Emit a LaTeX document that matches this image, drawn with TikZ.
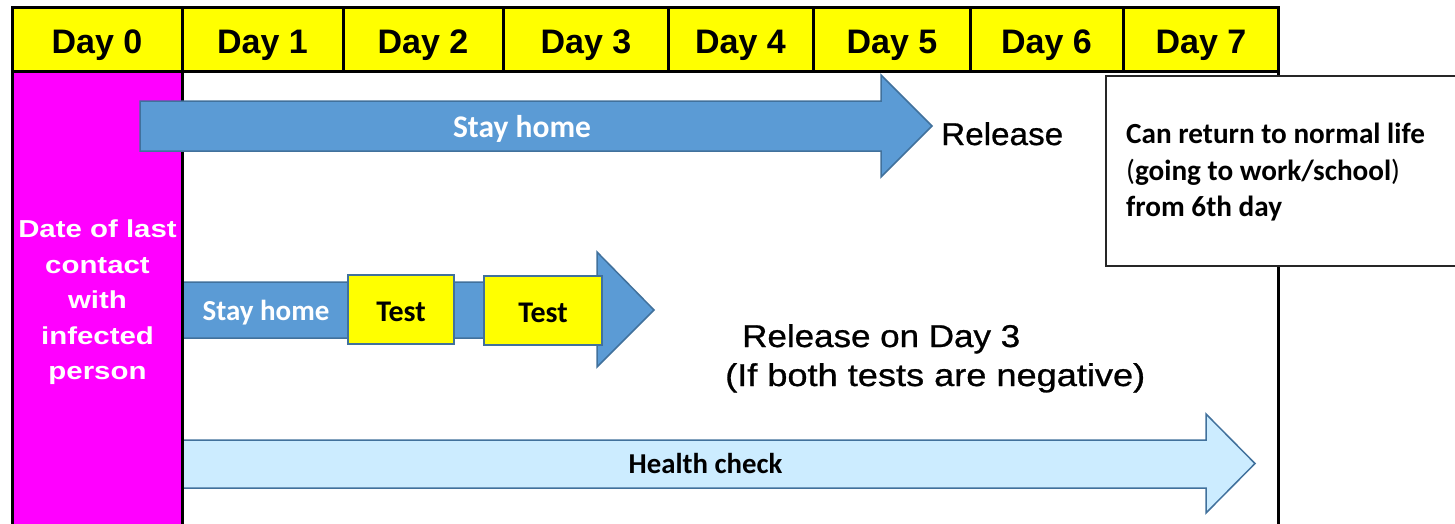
\documentclass[tikz,border=0pt]{standalone}
\usepackage{fontspec}
\usepackage{graphicx}
\newfontfamily\calfont{Carlito}
\newfontfamily\arfont{Liberation Sans}
\newfontfamily\relfont[FakeBold=0.8]{Liberation Sans}
\definecolor{arrblue}{HTML}{5B9BD5}
\definecolor{arredge}{HTML}{41719C}
\definecolor{lightarr}{HTML}{CCECFF}
\definecolor{mag}{HTML}{FF00FF}
\definecolor{yel}{HTML}{FFFF00}
\tikzset{
  frame/.style={line width=3pt, draw=black},
  bigarrow/.style={fill=arrblue, draw=arredge, line width=1.5pt, line join=miter},
  lightarrow/.style={fill=lightarr, draw=arredge, line width=1.5pt, line join=miter},
  testbox/.style={fill=yel, draw=arredge, line width=1.5pt, inner sep=0pt},
  daylabel/.style={font={\arfont\bfseries\fontsize{34}{40}\selectfont}, anchor=base, inner sep=0pt},
  magtext/.style={font={\arfont\bfseries\fontsize{24.5}{30}\selectfont}, text=white, anchor=base, inner sep=0pt},
  reltext/.style={font={\relfont\fontsize{31.5}{36}\selectfont}, anchor=base west, inner sep=0pt},
  calw/.style={font={\calfont\bfseries\fontsize{#1}{#1}\selectfont}, text=white, anchor=base, inner sep=0pt},
  calb/.style={font={\calfont\bfseries\fontsize{#1}{#1}\selectfont}, text=black, anchor=base, inner sep=0pt},
  calleft/.style={font={\calfont\bfseries\fontsize{29.2}{34}\selectfont}, anchor=base west, inner sep=0pt},
}
\begin{document}
\begin{tikzpicture}[x=1pt,y=-1pt]
\useasboundingbox (0,0) rectangle (1455,523);
\fill[white] (0,0) rectangle (1455,523);

% magenta column
\fill[mag] (12,71) rectangle (182,530);

% header
\fill[yel] (12,7) rectangle (1278,71);
\draw[frame] (12,7) rectangle (1278,71);
\foreach \x in {182,343,503,668,813,970,1123}
  \draw[frame] (\x,7) -- (\x,71);
\foreach \c/\t in {97/0, 262.5/1, 423/2, 586/3, 740.5/4, 892/5, 1046.5/6, 1201/7}
  \node[daylabel] (day\t) at (\c,53) {Day \t};

% lower arrows (under the frame lines)
\draw[bigarrow] (183,282) -- (597,282) -- (597,252) -- (654,310) -- (597,367) -- (597,338) -- (183,338) -- cycle;
\draw[lightarrow] (183,440) -- (1206,440) -- (1206,414) -- (1255,463.5) -- (1206,513) -- (1206,488) -- (183,488) -- cycle;

% body frame lines
\draw[frame] (12,71) -- (12,530);
\draw[frame] (182,71) -- (182,530);
\draw[frame] (1278,71) -- (1278,530);

% top arrow (over the frame)
\draw[bigarrow] (140,101) -- (881,101) -- (881,75) -- (932,126) -- (881,177) -- (881,151) -- (140,151) -- cycle;
\node[calw=31.5] (stay1) at (522,137) {Stay home};
\node[reltext] (rel1) at (941,145) {\resizebox{122pt}{\height}{Release}};

% test boxes
\node[testbox, minimum width=106pt, minimum height=69pt] (test1) at (401,309.5) {};
\node[testbox, minimum width=118pt, minimum height=69pt] (test2) at (543,310.5) {};
\node[calw=29] (stay2) at (266,320) {Stay home};
\node[calb=30] (test1t) at (401,321) {Test};
\node[calb=30] (test2t) at (543,322) {Test};

% release on day 3
\node[reltext] (rel3a) at (742,347) {\resizebox{278pt}{\height}{Release on Day 3}};
\node[reltext] (rel3b) at (725,386) {\resizebox{420pt}{\height}{(If both tests are negative)}};

% health check
\node[calb=28.8] (health) at (705.5,473) {Health check};

% magenta text
\node[magtext] (m1) at (97.5,237) {\scalebox{1.2}[1]{Date of last}};
\node[magtext] (m2) at (97.5,273) {\scalebox{1.2}[1]{contact}};
\node[magtext] (m3) at (97.5,308) {\scalebox{1.2}[1]{with}};
\node[magtext] (m4) at (97.5,344) {\scalebox{1.2}[1]{infected}};
\node[magtext] (m5) at (97.5,379) {\scalebox{1.2}[1]{person}};

% callout box
\draw[line width=1.5pt, draw=black!85, fill=white] (1106,76) rectangle (1465,266);
\node[calleft] (c1) at (1126,143) {Can return to normal life};
\node[calleft] (c2) at (1126,180) {{\mdseries(}going to work/school{\mdseries)}};
\node[calleft] (c3) at (1126,216) {from 6th day};
\end{tikzpicture}
\end{document}
